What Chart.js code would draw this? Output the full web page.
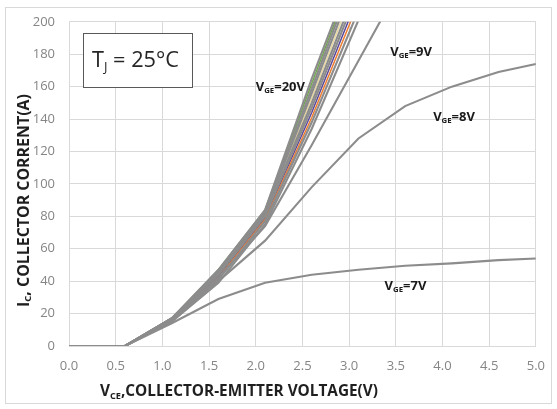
<!DOCTYPE html>
<html>
<head>
<meta charset="utf-8">
<script src="https://cdn.jsdelivr.net/npm/chart.js@4.4.1/dist/chart.umd.min.js"></script>
<style>
  html, body { margin: 0; padding: 0; background: #fff; }
  #wrap { width: 557px; height: 409px; }
</style>
</head>
<body>
<div id="wrap"><canvas id="ivChart"></canvas></div>
<script>
// VCE sample points (V)
const vce = [0, 0.6, 1.1, 1.6, 2.1, 2.6, 3.1, 3.6, 4.1, 4.6, 5.0];

// collector current (A) per gate voltage
const ic7  = [0, 0, 14, 29, 39, 44, 47, 49.5, 51, 53, 54];
const ic8  = [0, 0, 15, 40, 65, 98, 128, 148, 160, 169, 174];
const ic9  = [0, 0, 16, 42, 74, 124, 176, 228];
const ic10 = [0, 0, 15, 39, 75, 134, 201];
const ic11 = [0, 0, 16, 41, 77, 138, 207];
const ic12 = [0, 0, 16, 42, 78, 141, 212];
const ic13 = [0, 0, 16, 43, 79, 144, 216];
const ic14 = [0, 0, 17, 44, 80, 147, 220];
const ic15 = [0, 0, 17, 44, 81, 150, 224];
const ic16 = [0, 0, 17, 45, 81, 153, 228];
const ic17 = [0, 0, 17, 46, 82, 156, 232];
const ic18 = [0, 0, 17, 46, 83, 159, 236];
const ic19 = [0, 0, 17, 47, 84, 162, 238];
const ic20 = [0, 0, 17, 47, 84, 165, 240];

const gateVolts = ['7V', '8V', '9V', '10V', '11V', '12V', '13V', '14V', '15V', '16V', '17V', '18V', '19V', '20V'];
const seriesData = [ic7, ic8, ic9, ic10, ic11, ic12, ic13, ic14, ic15, ic16, ic17, ic18, ic19, ic20];

// axis ticks
const xTicks = [0, 0.5, 1, 1.5, 2, 2.5, 3, 3.5, 4, 4.5, 5];
const yTicks = [0, 20, 40, 60, 80, 100, 120, 140, 160, 180, 200];

const GRAY = '#8c8c8c';
// a few of the Excel lines still show their own colour under the grey ones
const accent = { '12V': '#ed7d31', '13V': '#5b4a9b', '16V': '#e8d8a0', '19V': '#70ad47' };

const datasets = seriesData.map((vals, i) => {
  const name = gateVolts[i];
  const col = accent[name];
  return {
    label: 'VGE=' + name,
    data: vals.map((v, k) => ({ x: vce[k], y: v })),
    borderColor: col || GRAY,
    borderWidth: col ? 1.5 : 2.1,
    pointRadius: 0,
    tension: 0,
    fill: false,
    showLine: true,
    order: col ? 2 : 1
  };
});

// text labels on the plot (data units: left edge / vertical middle)
const curveLabels = [
  { x: 2.0, y: 159.5, v: '20V' },
  { x: 3.44, y: 181, v: '9V' },
  { x: 3.9, y: 141, v: '8V' },
  { x: 3.38, y: 37, v: '7V' }
];

const FONT = '"Open Sans", "Noto Sans", sans-serif';

function richWidth(ctx, parts, size, weight) {
  let w = 0;
  parts.forEach(p => {
    ctx.font = weight + ' ' + (p.sub ? size * 0.6 : size) + 'px ' + FONT;
    w += ctx.measureText(p.t).width;
  });
  return w;
}

function drawRich(ctx, parts, x, y, size, weight, color) {
  ctx.fillStyle = color;
  ctx.textBaseline = 'middle';
  ctx.textAlign = 'left';
  parts.forEach(p => {
    const s = p.sub ? size * 0.6 : size;
    ctx.font = weight + ' ' + s + 'px ' + FONT;
    ctx.fillText(p.t, x, p.sub ? y + size * 0.28 : y);
    x += ctx.measureText(p.t).width;
  });
}

// fit size so text spans a given width
function fitSize(ctx, parts, width, weight) {
  const base = 20;
  return base * width / richWidth(ctx, parts, base, weight);
}

const decorPlugin = {
  id: 'decor',
  beforeDraw(chart) {
    const ctx = chart.ctx;
    ctx.save();
    ctx.fillStyle = '#fff';
    ctx.fillRect(0, 0, chart.width, chart.height);
    ctx.strokeStyle = '#d9d9d9';
    ctx.lineWidth = 1;
    ctx.strokeRect(5.5, 7.5, 546, 396);
    ctx.restore();
  },
  afterDraw(chart) {
    const ctx = chart.ctx;
    const xs = chart.scales.x, ys = chart.scales.y;
    ctx.save();

    // x axis title
    const xt = [{ t: 'V' }, { t: 'CE', sub: true }, { t: ',COLLECTOR-EMITTER VOLTAGE(V)' }];
    const xs1 = fitSize(ctx, xt, 278, 'bold');
    drawRich(ctx, xt, 100, 392, xs1, 'bold', '#1f1f1f');

    // y axis title, rotated
    const yt = [{ t: 'I' }, { t: 'C', sub: true }, { t: ', COLLECTOR CORRENT(A)' }];
    const ys1 = fitSize(ctx, yt, 213, 'bold');
    ctx.save();
    ctx.translate(24, 307);
    ctx.rotate(-Math.PI / 2);
    drawRich(ctx, yt, 0, 0, ys1, 'bold', '#1f1f1f');
    ctx.restore();

    // curve labels
    curveLabels.forEach(l => {
      const parts = [{ t: 'V' }, { t: 'GE', sub: true }, { t: '=' + l.v }];
      drawRich(ctx, parts, xs.getPixelForValue(l.x), ys.getPixelForValue(l.y), 13, 'bold', '#1a1a1a');
    });

    // junction temperature box
    const bx = xs.getPixelForValue(0.15), by = ys.getPixelForValue(193.3);
    const bw = 109, bh = 54;
    ctx.fillStyle = '#fff';
    ctx.fillRect(Math.round(bx) + 0.5, Math.round(by) + 0.5, bw, bh);
    ctx.strokeStyle = '#595959';
    ctx.lineWidth = 1;
    ctx.strokeRect(Math.round(bx) + 0.5, Math.round(by) + 0.5, bw, bh);
    const tj = [{ t: 'T' }, { t: 'J', sub: true }, { t: ' = 25°C' }];
    const ts = fitSize(ctx, tj, 87, 'normal');
    drawRich(ctx, tj, Math.round(bx) + 9, Math.round(by) + 28, ts, 'normal', '#262626');

    ctx.restore();
  }
};

new Chart(document.getElementById('ivChart').getContext('2d'), {
  type: 'scatter',
  data: { datasets: datasets },
  options: {
    responsive: true,
    maintainAspectRatio: false,
    animation: false,
    layout: { padding: { left: 0, right: 17, top: 16, bottom: 0 } },
    scales: {
      x: {
        type: 'linear',
        min: 0,
        max: 5,
        afterFit: s => { s.height = 63; },
        afterBuildTicks: s => { s.ticks = xTicks.map(v => ({ value: v })); },
        grid: { color: '#d9d9d9', drawTicks: false },
        border: { color: '#d9d9d9' },
        ticks: {
          padding: 12,
          color: '#858585',
          font: { family: FONT, size: 13 },
          callback: v => Number(v).toFixed(1)
        }
      },
      y: {
        min: 0,
        max: 200,
        afterFit: s => { s.width = 69; },
        afterBuildTicks: s => { s.ticks = yTicks.map(v => ({ value: v })); },
        grid: { color: '#d9d9d9', drawTicks: false },
        border: { color: '#d9d9d9' },
        ticks: {
          padding: 14,
          color: '#858585',
          font: { family: FONT, size: 13 }
        }
      }
    },
    plugins: {
      legend: { display: false },
      tooltip: { enabled: false }
    }
  },
  plugins: [decorPlugin]
});
</script>
</body>
</html>
